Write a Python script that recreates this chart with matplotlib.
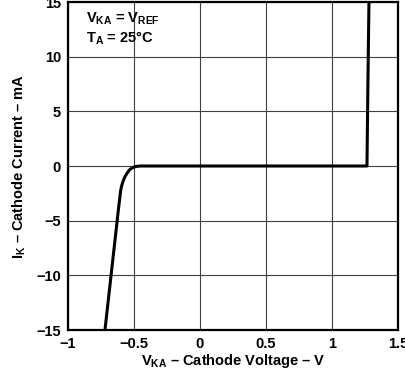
import matplotlib
matplotlib.use("Agg")
import matplotlib.pyplot as plt

plt.rcParams['font.family'] = ['Liberation Sans', 'DejaVu Sans']
plt.rcParams['mathtext.fontset'] = 'custom'
plt.rcParams['mathtext.rm'] = 'Liberation Sans:bold'
plt.rcParams['mathtext.it'] = 'Liberation Sans:bold'
plt.rcParams['mathtext.bf'] = 'Liberation Sans:bold'

# Curve data (V, mA)
v_ka = [-0.72, -0.67, -0.619, -0.610, -0.601, -0.593, -0.581, -0.568, -0.555, -0.538,
        -0.525, -0.508, -0.489, -0.455, 0.0, 0.5, 1.0, 1.265, 1.272, 1.28]
i_k = [-15.0, -9.6, -4.07, -3.16, -2.24, -1.79, -1.33, -0.96, -0.71, -0.41,
       -0.26, -0.14, -0.05, 0.0, 0.0, 0.0, 0.0, 0.0, 7.5, 15.0]

x_ticks = [-1, -0.5, 0, 0.5, 1, 1.5]
x_labels = ['\u22121', '\u22120.5', '0', '0.5', '1', '1.5']
y_ticks = [-15, -10, -5, 0, 5, 10, 15]
y_labels = ['\u221215', '\u221210', '\u22125', '0', '5', '10', '15']

FS = 10.5
fig = plt.figure(figsize=(4.05, 3.72), dpi=100)
ax = fig.add_axes([68/405, 1 - 330/372, 330/405, 328/372])

ax.plot(v_ka, i_k, color='black', lw=2.2, solid_joinstyle='round', solid_capstyle='butt')

ax.set_xlim(-1, 1.5)
ax.set_ylim(-15, 15)
ax.set_xticks(x_ticks)
ax.set_xticklabels(x_labels, fontsize=FS, fontweight='bold')
ax.set_yticks(y_ticks)
ax.set_yticklabels(y_labels, fontsize=FS, fontweight='bold')
ax.tick_params(length=0, pad=5)
ax.grid(True, color='#404040', lw=0.8)
ax.set_axisbelow(True)
for s in ax.spines.values():
    s.set_linewidth(1.6)

ax.set_xlabel('$\\mathregular{V_{KA}}$ \u2013 Cathode Voltage \u2013 V',
              fontsize=FS, fontweight='bold', labelpad=1)
ax.set_ylabel('$\\mathregular{I_{K}}$ \u2013 Cathode Current \u2013 mA',
              fontsize=FS, fontweight='bold', labelpad=6)

ax.text(0.055, 0.975, '$\\mathregular{V_{KA}}$ = $\\mathregular{V_{REF}}$', transform=ax.transAxes,
        fontsize=FS, fontweight='bold', va='top', ha='left')
ax.text(0.055, 0.915, '$\\mathregular{T_{A}}$ = 25\u00b0C', transform=ax.transAxes,
        fontsize=FS, fontweight='bold', va='top', ha='left')

fig.savefig('out.png', dpi=100)
